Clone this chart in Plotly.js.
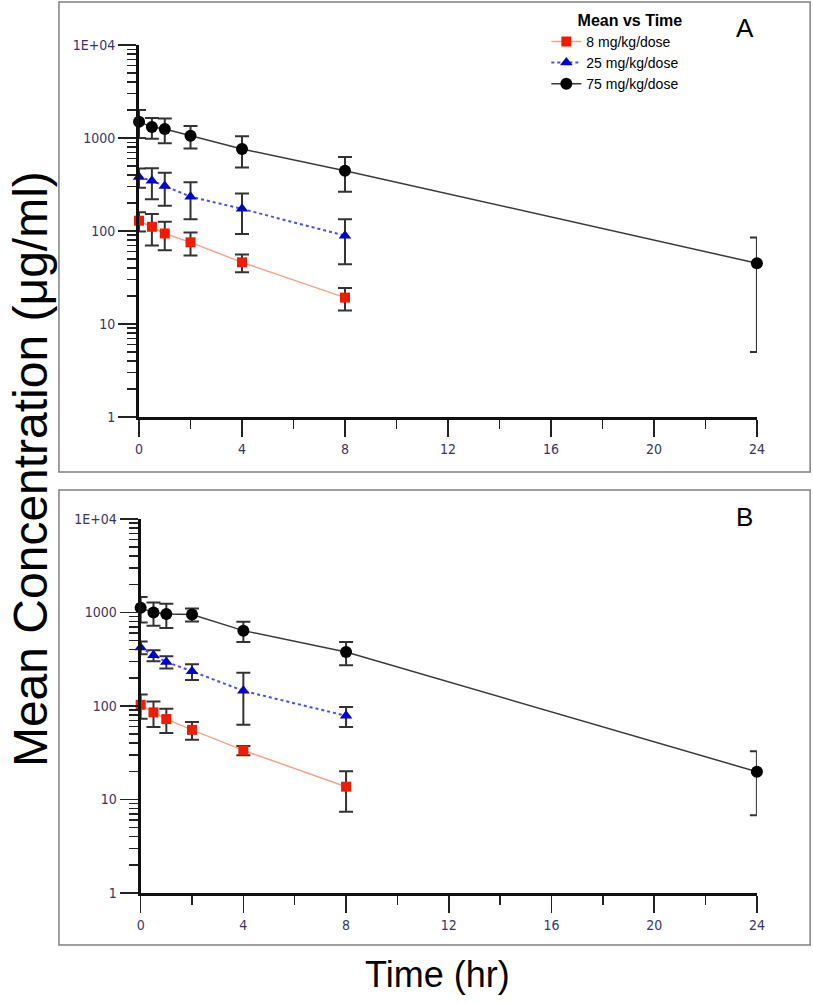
<!DOCTYPE html>
<html>
<head>
<meta charset="utf-8">
<script src="https://cdn.plot.ly/plotly-3.0.1.min.js"></script>
<style>
  html, body { margin: 0; padding: 0; background: #fff; }
  #graph { width: 813px; height: 1003px; }
</style>
</head>
<body>
<div id="graph"></div>
<script>
// sampling times (hr)
var times = [0, 0.5, 1, 2, 4, 8];
var times75 = [0, 0.5, 1, 2, 4, 8, 24];

var seriesNames = ['8 mg/kg/dose', '25 mg/kg/dose', '75 mg/kg/dose'];

// panel A: mean and SD (ug/ml)
var a8 = [129, 111, 94, 75.5, 46, 19.2];
var a8sd = [30, 41, 32, 21, 10, 5.2];
var a25 = [381, 347, 305, 234, 173, 89];
var a25sd = [90, 127, 118, 100, 80, 45];
var a75 = [1500, 1310, 1250, 1060, 762, 445, 45];
var a75sd = [500, 330, 370, 290, 280, 180, 40];

// panel B: mean and SD (ug/ml)
var b8 = [103, 85.4, 72.4, 55.5, 33.5, 13.7];
var b8sd = [30, 26, 21, 12, 3.8, 6.3];
var b25 = [423, 348, 296, 235, 145, 78.5];
var b25sd = [66, 47, 45, 45, 82, 19];
var b75 = [1120, 1000, 960, 952, 639, 378, 19.8];
var b75sd = [340, 277, 280, 150, 155, 106, 13];

var yTickVals = [1, 10, 100, 1000, 10000];
var yTickText = ['1', '10', '100', '1000', '1E+04'];
var xTickVals = [0, 4, 8, 12, 16, 20, 24];

var minorY = [];
for (var d = 1; d < 10000; d *= 10) {
  for (var k = 2; k < 10; k++) minorY.push(d * k);
}

var styles = [
  {line: {color: '#f7a38a', width: 1.5}, marker: {symbol: 'square', color: '#ee1c00', size: 10}},
  {line: {color: '#4a4aff', width: 2, dash: 'dot'}, marker: {symbol: 'triangle-up', color: '#0000d0', size: 11}},
  {line: {color: '#3a3a3a', width: 1.5}, marker: {symbol: 'circle', color: '#000000', size: 12}}
];

function makeTrace(i, x, y, sd, xa, ya, show) {
  return {
    type: 'scatter',
    mode: 'lines+markers',
    name: seriesNames[i],
    x: x,
    y: y,
    xaxis: xa,
    yaxis: ya,
    showlegend: show,
    cliponaxis: false,
    line: styles[i].line,
    marker: styles[i].marker,
    error_y: {type: 'data', array: sd, visible: true, color: '#333333', thickness: 2, width: 7}
  };
}

var data = [
  makeTrace(0, times, a8, a8sd, 'x', 'y', true),
  makeTrace(1, times, a25, a25sd, 'x', 'y', true),
  makeTrace(2, times75, a75, a75sd, 'x', 'y', true),
  makeTrace(0, times, b8, b8sd, 'x2', 'y2', false),
  makeTrace(1, times, b25, b25sd, 'x2', 'y2', false),
  makeTrace(2, times75, b75, b75sd, 'x2', 'y2', false)
];

var tickFont = {family: 'DejaVu Sans Condensed, DejaVu Sans', size: 14, color: '#3b3566'};

function xAxis(anchor, dom) {
  return {
    anchor: anchor, domain: dom, range: [0, 24],
    tickvals: xTickVals, ticks: 'outside', ticklen: 17, tickwidth: 1.5, tickcolor: '#222',
    minor: {dtick: 2, tick0: 0, ticks: 'outside', ticklen: 9, tickwidth: 1.5, tickcolor: '#222'},
    showline: true, linewidth: 3, linecolor: '#111',
    showgrid: false, zeroline: false, tickfont: tickFont, fixedrange: true
  };
}
function yAxis(anchor, dom) {
  return {
    anchor: anchor, domain: dom, type: 'log', range: [0, 4],
    tickvals: yTickVals, ticktext: yTickText, ticks: 'outside', ticklen: 18, tickwidth: 1.5, tickcolor: '#222',
    minor: {tickvals: minorY, ticks: 'outside', ticklen: 9, tickwidth: 1.5, tickcolor: '#222'},
    showline: true, linewidth: 3, linecolor: '#111',
    showgrid: false, zeroline: false, tickfont: tickFont, fixedrange: true
  };
}

var layout = {
  width: 813,
  height: 1003,
  margin: {l: 0, r: 0, t: 0, b: 0},
  paper_bgcolor: '#ffffff',
  plot_bgcolor: 'rgba(0,0,0,0)',
  font: {family: 'Arial, Liberation Sans', color: '#000'},
  xaxis: xAxis('y', [0.171, 0.931]),
  yaxis: yAxis('x', [0.5843, 0.9551]),
  xaxis2: xAxis('y2', [0.173, 0.931]),
  yaxis2: yAxis('x2', [0.1097, 0.4826]),
  legend: {
    x: 0.672, y: 0.995, xanchor: 'left', yanchor: 'top',
    bgcolor: 'rgba(0,0,0,0)', font: {size: 14, family: 'Arial, Liberation Sans'},
    title: {text: '<b>Mean vs Time</b>', font: {size: 16}, side: 'top right'},
    tracegroupgap: 0, itemwidth: 30
  },
  shapes: [
    {type: 'rect', xref: 'paper', yref: 'paper', x0: 0.0725, x1: 0.9965, y0: 0.5294, y1: 0.998,
      line: {color: '#808080', width: 1.5}},
    {type: 'rect', xref: 'paper', yref: 'paper', x0: 0.0725, x1: 0.9965, y0: 0.0578, y1: 0.5115,
      line: {color: '#808080', width: 1.5}}
  ],
  annotations: [
    {text: 'A', xref: 'paper', yref: 'paper', x: 0.916, y: 0.972, xanchor: 'center', yanchor: 'middle',
      showarrow: false, font: {size: 26}},
    {text: 'B', xref: 'paper', yref: 'paper', x: 0.916, y: 0.4845, xanchor: 'center', yanchor: 'middle',
      showarrow: false, font: {size: 26}},
    {text: 'Mean Concentration (\u03bcg/ml)', xref: 'paper', yref: 'paper', x: 0.037, y: 0.5324,
      xanchor: 'center', yanchor: 'middle', textangle: -90, showarrow: false, font: {size: 48}},
    {text: 'Time (hr)', xref: 'paper', yref: 'paper', x: 0.538, y: 0.028,
      xanchor: 'center', yanchor: 'middle', showarrow: false, font: {size: 36}}
  ]
};

Plotly.newPlot('graph', data, layout, {displayModeBar: false, staticPlot: true});
</script>
</body>
</html>
